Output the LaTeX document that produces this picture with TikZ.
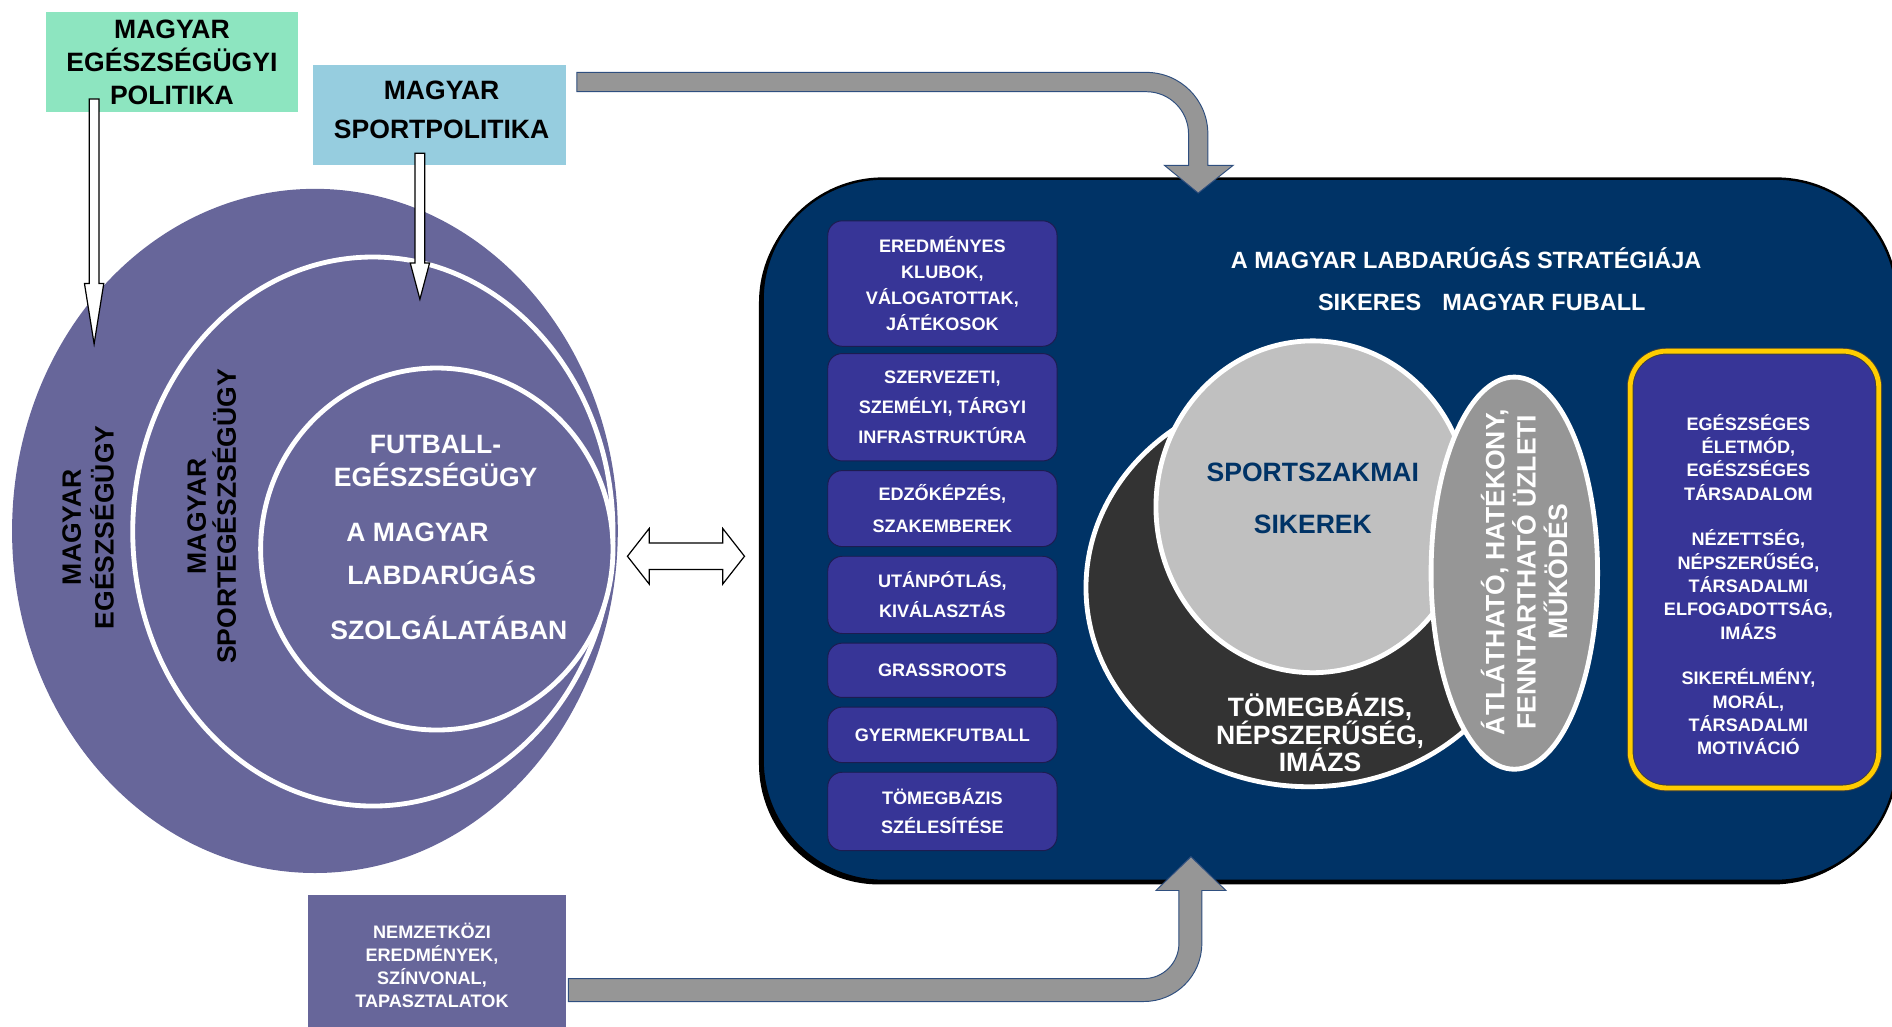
\documentclass[tikz,border=0pt]{standalone}
\usepackage{fontspec}
\setmainfont{Liberation Sans}
\usetikzlibrary{shapes.geometric,calc}
\definecolor{purp}{HTML}{67669A}
\definecolor{mint}{HTML}{8DE5C0}
\definecolor{lblue}{HTML}{96CDDF}
\definecolor{navy}{HTML}{003366}
\definecolor{boxblue}{HTML}{373597}
\definecolor{boxline}{HTML}{1C1C50}
\definecolor{lgray}{HTML}{C0C0C0}
\definecolor{dgray}{HTML}{333333}
\definecolor{mgray}{HTML}{969696}
\definecolor{arrline}{HTML}{2F4F7F}
\definecolor{gold}{HTML}{FFCC00}
\newcommand\myfs[2]{\fontsize{#1}{#2}\selectfont\bfseries}
\begin{document}
\begin{tikzpicture}[x=1pt,y=-1pt,
  policy/.style={rectangle,inner sep=0pt,align=center,text=black},
  hollow/.style={draw=black,fill=white,line width=1pt,line join=miter},
  bentarrow/.style={draw=arrline,fill=mgray,line width=0.8pt},
  lbox/.style={rectangle,draw=boxline,fill=boxblue,rounded corners=12pt,line width=0.8pt,
    minimum width=190pt,inner sep=0pt,align=center,text=white},
  ring/.style={ellipse,draw=white,line width=4pt,inner sep=0pt},
  wtxt/.style={text=white,align=center,inner sep=0pt},
  btxt/.style={text=black,align=center,inner sep=0pt}]
\useasboundingbox (0,0) rectangle (1568,851);

% ---------- policy boxes ----------
\node[policy,fill=mint,minimum width=209pt,minimum height=83pt,font=\myfs{22}{27.5}] (gp) at (142.5,51.5) {MAGYAR\\EGÉSZSÉGÜGYI\\POLITIKA};
\node[policy,fill=lblue,minimum width=210pt,minimum height=83pt] (sp) at (364,95.5) {};
\node[btxt,font=\myfs{22}{32}] (sptxt) at (366,91) {MAGYAR\\SPORTPOLITIKA};

% ---------- left nested ellipses ----------
\node[ellipse,fill=purp,inner sep=0pt,minimum width=502pt,minimum height=567pt] (outer) at (261,440) {};
\node[ring,fill=purp,minimum width=398pt,minimum height=455pt] (middle) at (309,440.5) {};
\node[ring,fill=purp,minimum width=292pt,minimum height=300pt] (inner) at (362,455) {};

\node[btxt,rotate=90,font=\myfs{22}{27}] (t1) at (73,437) {MAGYAR\\EGÉSZSÉGÜGY};
\node[btxt,rotate=90,font=\myfs{22}{25}] (t2) at (175.5,428) {MAGYAR\\SPORTEGÉSZSÉGÜGY};
\node[wtxt,font=\myfs{22}{28}] (t3) at (361,382) {FUTBALL-\\EGÉSZSÉGÜGY};
\node[wtxt,font=\myfs{22}{26}] (t4) at (346,441) {A MAGYAR};
\node[wtxt,font=\myfs{22}{26}] (t5) at (366,475) {LABDARÚGÁS};
\node[wtxt,font=\myfs{22}{26}] (t6) at (372,520) {SZOLGÁLATÁBAN};

% ---------- hollow down arrows ----------
\coordinate (d1) at (78,82);
\coordinate (d2) at (348,127);
\draw[hollow] ($(d1)+(-4,0)$) -- ($(d1)+(4,0)$) -- ($(d1)+(4,153)$) -- ($(d1)+(8,153)$) -- ($(d1)+(0,203)$)
  -- ($(d1)+(-8,153)$) -- ($(d1)+(-4,153)$) -- cycle;
\draw[hollow] ($(d2)+(-4,0)$) -- ($(d2)+(4,0)$) -- ($(d2)+(4,91)$) -- ($(d2)+(8,91)$) -- ($(d2)+(0,121)$)
  -- ($(d2)+(-8,91)$) -- ($(d2)+(-4,91)$) -- cycle;

% ---------- double arrow ----------
\coordinate (dl) at (520,461);
\coordinate (dr) at (617,461);
\draw[hollow] (dl) -- ($(dl)+(18,-23)$) -- ($(dl)+(18,-11)$) -- ($(dr)+(-18,-11)$) -- ($(dr)+(-18,-23)$)
  -- (dr) -- ($(dr)+(-18,23)$) -- ($(dr)+(-18,11)$) -- ($(dl)+(18,11)$) -- ($(dl)+(18,23)$) -- cycle;

% ---------- strategy panel ----------
\node[rectangle,fill=black,rounded corners=100pt,minimum width=940pt,minimum height=582pt,inner sep=0pt] (shadow) at (1099,442) {};
\node[rectangle,draw=black,line width=2pt,fill=navy,rounded corners=100pt,minimum width=940pt,minimum height=582pt,inner sep=0pt] (panel) at (1102,439) {};

\node[wtxt,font=\myfs{19.5}{24}] (title1) at (1215,214) {A MAGYAR LABDARÚGÁS STRATÉGIÁJA};
\node[wtxt,font=\myfs{19.5}{24}] (title2) at (1228,251) {SIKERES\hspace{0.9em}MAGYAR FUBALL};

% left column boxes
\node[lbox,minimum height=104pt,font=\myfs{15}{21.7}] (b1) at (781,235) {EREDMÉNYES\\KLUBOK,\\VÁLOGATOTTAK,\\JÁTÉKOSOK};
\node[lbox,minimum height=89pt,font=\myfs{15}{24.5}] (b2) at (781,337.5) {SZERVEZETI,\\SZEMÉLYI, TÁRGYI\\INFRASTRUKTÚRA};
\node[lbox,minimum height=63pt,font=\myfs{15}{26}] (b3) at (781,421.5) {EDZŐKÉPZÉS,\\SZAKEMBEREK};
\node[lbox,minimum height=64pt,font=\myfs{15}{25}] (b4) at (781,493) {UTÁNPÓTLÁS,\\KIVÁLASZTÁS};
\node[lbox,minimum height=45pt,font=\myfs{15}{24}] (b5) at (781,555.5) {GRASSROOTS};
\node[lbox,minimum height=46pt,font=\myfs{15}{24}] (b6) at (781,609) {GYERMEKFUTBALL};
\node[lbox,minimum height=65pt,font=\myfs{15}{24}] (b7) at (781,672.5) {TÖMEGBÁZIS\\SZÉLESÍTÉSE};

% venn
\node[ring,fill=dgray,minimum width=370pt,minimum height=330pt] (mass) at (1085,487) {};
\node[ring,fill=lgray,minimum width=260pt,minimum height=275pt] (succ) at (1088,420) {};
\node[ring,fill=mgray,minimum width=138pt,minimum height=325pt] (biz) at (1255,475) {};
\node[align=center,inner sep=0pt,text=navy,font=\myfs{22}{43}] (succtxt) at (1088,413) {SPORTSZAKMAI\\SIKEREK};
\node[wtxt,font=\myfs{22}{23}] (masstxt) at (1094,607) {TÖMEGBÁZIS,\\NÉPSZERŰSÉG,\\IMÁZS};
\node[wtxt,rotate=90,font=\myfs{22}{26}] (biztxt) at (1263,474) {ÁTLÁTHATÓ, HATÉKONY,\\FENNTARTHATÓ ÜZLETI\\MŰKÖDÉS};

% right box
\node[rectangle,draw=black!75,double=gold,double distance=4pt,line width=0.8pt,fill=boxblue,rounded corners=30pt,
  minimum width=206pt,minimum height=362pt,inner sep=0pt] (rbox) at (1454,472) {};
\node[wtxt,font=\myfs{15}{19.3}] (rtxt) at (1449,484.5) {EGÉSZSÉGES\\ÉLETMÓD,\\EGÉSZSÉGES\\TÁRSADALOM\\[18.7pt]
NÉZETTSÉG,\\NÉPSZERŰSÉG,\\TÁRSADALMI\\ELFOGADOTTSÁG,\\IMÁZS\\[18.7pt]
SIKERÉLMÉNY,\\MORÁL,\\TÁRSADALMI\\MOTIVÁCIÓ};

% ---------- international box ----------
\node[rectangle,fill=purp,minimum width=214pt,minimum height=110pt,inner sep=0pt] (intl) at (362,797) {};
\node[wtxt,font=\myfs{15}{19.3}] (intltxt) at (358,800) {NEMZETKÖZI\\EREDMÉNYEK,\\SZÍNVONAL,\\TAPASZTALATOK};

% ---------- bent gray arrows ----------
\coordinate (ta) at (478,60);
\draw[bentarrow] (ta) -- (950,60) .. controls (978.2,60) and (1001,82.8) .. (1001,111) -- (1001,137) -- (1022,137)
  -- (993,160) -- (965,137) -- (985,137) -- (985,111) .. controls (985,91.7) and (969.3,76) .. (950,76) -- (478,76) -- cycle;
\coordinate (ba) at (471,830);
\draw[bentarrow] (ba) -- (948,830) .. controls (974.5,830) and (996,808.5) .. (996,782) -- (996,738) -- (1016,738)
  -- (987,710) -- (958,738) -- (977,738) -- (977,782) .. controls (977,798) and (964,811) .. (948,811) -- (471,811) -- cycle;
\end{tikzpicture}
\end{document}
